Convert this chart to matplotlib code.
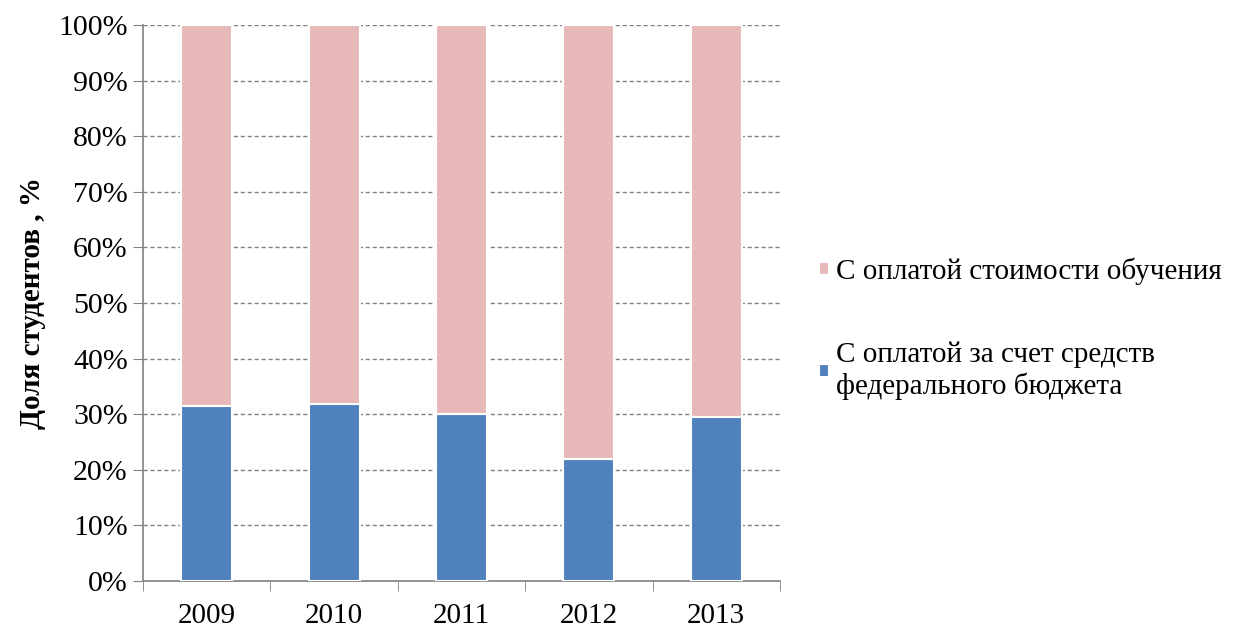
import numpy as np
import matplotlib.pyplot as plt
from matplotlib.ticker import FuncFormatter, FixedLocator

plt.rcParams["font.family"] = ["Liberation Serif", "DejaVu Serif"]

# Data (shares, %)
years = ["2009", "2010", "2011", "2012", "2013"]
budget = [31.5, 31.8, 30.0, 21.9, 29.5]
paid = [100 - b for b in budget]

label_paid = "С оплатой стоимости обучения"
label_budget = "С оплатой за счет средств\nфедерального бюджета"

blue = "#4f81bd"
pink = "#e6b9b8"

fig = plt.figure(figsize=(12.36, 6.29), dpi=100)
ax = fig.add_axes([0.1157, 0.0763, 0.5153, 0.884])

x = np.arange(len(years))
b1 = ax.bar(x, budget, width=0.4, color=blue, edgecolor="white", linewidth=1.5,
            label=label_budget, zorder=3)
b2 = ax.bar(x, paid, width=0.4, bottom=budget, color=pink, edgecolor="white",
            linewidth=1.5, label=label_paid, zorder=3)

ax.set_xlim(-0.5, len(years) - 0.5)
ax.set_ylim(0, 100)
ax.set_yticks(np.arange(0, 101, 10))
ax.yaxis.set_major_formatter(FuncFormatter(lambda v, p: f"{int(v)}%"))
ax.set_xticks(x)
ax.set_xticklabels(years)
ax.xaxis.set_minor_locator(FixedLocator(np.arange(-0.5, len(years), 1)))

ax.tick_params(axis="x", which="major", length=0, pad=16, labelsize=21)
ax.tick_params(axis="x", which="minor", length=7, color="#808080", direction="out")
ax.tick_params(axis="y", length=7, color="#808080", direction="out", pad=4, labelsize=21.5)

ax.grid(axis="y", linestyle=(0, (3, 2)), color="#808080", linewidth=1, zorder=0)
for s in ["top", "right"]:
    ax.spines[s].set_visible(False)
for s in ["left", "bottom"]:
    ax.spines[s].set_color("#808080")
    ax.spines[s].set_linewidth(1.2)

ax.set_ylabel("Доля студентов , %", fontsize=21, fontweight="bold", labelpad=9)

fig.legend([b2, b1], [label_paid, label_budget], loc="upper left",
           bbox_to_anchor=(0.651, 0.614), frameon=False, fontsize=21,
           borderpad=0, handlelength=0.32, handleheight=0.32,
           handletextpad=0.25, labelspacing=1.95)

fig.savefig("out.png", dpi=100)
